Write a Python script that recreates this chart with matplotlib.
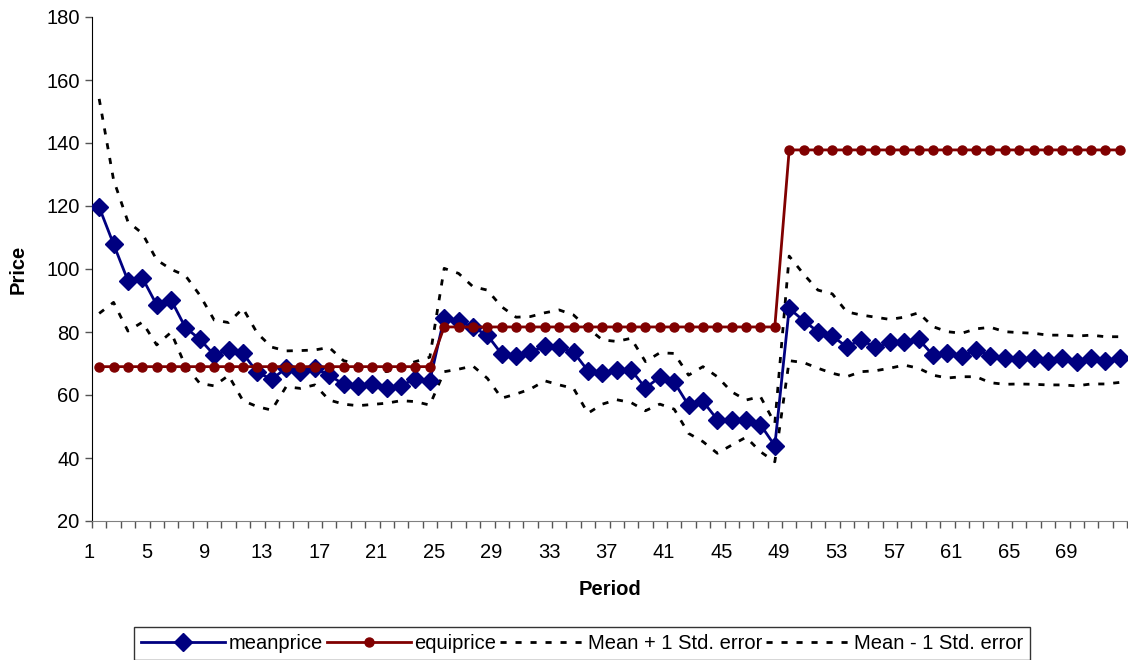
import matplotlib
matplotlib.use("Agg")
import matplotlib.pyplot as plt
from matplotlib.ticker import FixedLocator, NullFormatter

plt.rcParams["font.family"] = ["Liberation Sans", "DejaVu Sans"]

# price per period, 72 periods
periods = list(range(1, 73))

meanprice = [
    119.6, 107.9, 96.3, 97.2, 88.6, 90.2, 81.4, 77.7, 72.7, 74.3, 73.2, 67.2,
    65.0, 68.5, 67.4, 68.5, 66.3, 63.4, 63.0, 63.4, 62.1, 63.0, 65.1, 64.4,
    84.6, 83.5, 81.5, 79.0, 73.0, 72.3, 73.6, 75.5, 75.2, 73.6, 67.7, 67.0,
    67.8, 68.0, 62.2, 65.7, 64.1, 56.7, 58.0, 52.2, 52.2, 52.2, 50.6, 43.9,
    87.5, 83.6, 80.1, 78.7, 75.3, 77.5, 75.1, 76.7, 76.9, 77.7, 72.7, 73.2,
    72.4, 74.3, 72.4, 71.7, 71.4, 71.7, 70.8, 71.7, 70.6, 71.7, 70.8, 71.7,
]

equiprice = [69.0] * 24 + [81.6] * 24 + [137.8] * 24

upper_se = [
    154.0, 128.3, 115.0, 111.3, 102.9, 99.9, 97.9, 91.7, 83.8, 83.0, 87.5, 79.6,
    75.2, 74.0, 74.1, 74.3, 75.1, 70.9, 69.8, 68.5, 67.4, 69.2, 70.6, 72.0,
    100.2, 98.6, 94.4, 93.3, 88.0, 84.7, 84.9, 86.1, 87.0, 85.4, 81.2, 77.5,
    77.0, 78.0, 70.6, 73.4, 73.2, 66.3, 69.0, 65.8, 61.0, 58.4, 59.5, 51.0,
    104.1, 98.4, 93.3, 92.1, 86.4, 85.4, 84.7, 84.0, 84.7, 86.1, 81.7, 80.1,
    79.6, 81.0, 81.5, 80.1, 79.8, 79.6, 79.0, 79.0, 78.7, 79.0, 78.5, 78.5,
]

lower_se = [
    85.9, 89.4, 80.3, 83.1, 75.9, 79.9, 69.2, 63.7, 62.9, 66.2, 58.2, 56.3,
    55.2, 62.6, 62.1, 63.2, 58.4, 57.1, 56.6, 57.0, 57.4, 58.2, 57.9, 56.8,
    67.4, 68.2, 69.2, 65.3, 59.0, 60.3, 61.9, 64.5, 63.2, 62.1, 54.2, 57.1,
    58.5, 57.6, 55.0, 57.1, 55.5, 47.8, 45.2, 41.5, 44.1, 46.6, 42.0, 38.8,
    70.9, 70.3, 68.5, 66.9, 65.8, 67.4, 67.7, 68.5, 69.5, 68.5, 66.3, 65.4,
    65.8, 65.8, 63.9, 63.4, 63.5, 63.4, 63.2, 63.2, 62.9, 63.5, 63.5, 64.0,
]

x_labels = list(range(1, 73, 4))
y_ticks = list(range(20, 181, 20))

FS = 14.5

fig = plt.figure(figsize=(11.28, 6.6), dpi=100)
ax = fig.add_axes([92 / 1128, 139 / 660, 1035 / 1128, 504 / 660])

ax.plot(periods, upper_se, color="black", lw=2, dashes=(2.2, 3.2),
        label="Mean + 1 Std. error", zorder=2)
ax.plot(periods, lower_se, color="black", lw=2, dashes=(2.2, 3.2),
        label="Mean - 1 Std. error", zorder=2)
ax.plot(periods, meanprice, color="#000080", lw=2, marker="D", markersize=9,
        label="meanprice", zorder=3)
ax.plot(periods, equiprice, color="#800000", lw=2, marker="o", markersize=6.5,
        label="equiprice", zorder=4)

ax.set_xlim(0.5, 72.5)
ax.set_ylim(20, 180)
ax.set_yticks(y_ticks)
ax.tick_params(axis="y", direction="out", length=5, width=1, colors="#555555",
               labelcolor="black", labelsize=FS, pad=4)

# ticks between categories
ax.xaxis.set_major_locator(FixedLocator([p + 0.5 for p in range(0, 73)]))
ax.xaxis.set_major_formatter(NullFormatter())
ax.tick_params(axis="x", which="major", direction="out", length=5, width=1,
               colors="#555555")

# period labels every fourth category, set a little left of centre
for v in x_labels:
    ax.text(v - 0.7, -0.062, str(v), transform=ax.get_xaxis_transform(),
            ha="center", va="center", fontsize=FS, clip_on=False)

for side in ["top", "right"]:
    ax.spines[side].set_visible(False)
ax.spines["left"].set_color("black")
ax.spines["bottom"].set_color("#808080")

ax.set_xlabel("Period", fontsize=FS, fontweight="bold", labelpad=34)
ax.set_ylabel("Price", fontsize=FS, fontweight="bold", labelpad=13)

handles, labels = ax.get_legend_handles_labels()
order = [2, 3, 0, 1]
leg = fig.legend([handles[i] for i in order], [labels[i] for i in order],
                 loc="lower center", bbox_to_anchor=(0.516, -0.012), ncol=4,
                 frameon=True, fancybox=False, edgecolor="black", fontsize=FS,
                 handlelength=4.2, handletextpad=0.15, columnspacing=0.2,
                 borderpad=0.35, borderaxespad=0.4)
leg.get_frame().set_linewidth(1)

fig.savefig("out.png", dpi=100)
